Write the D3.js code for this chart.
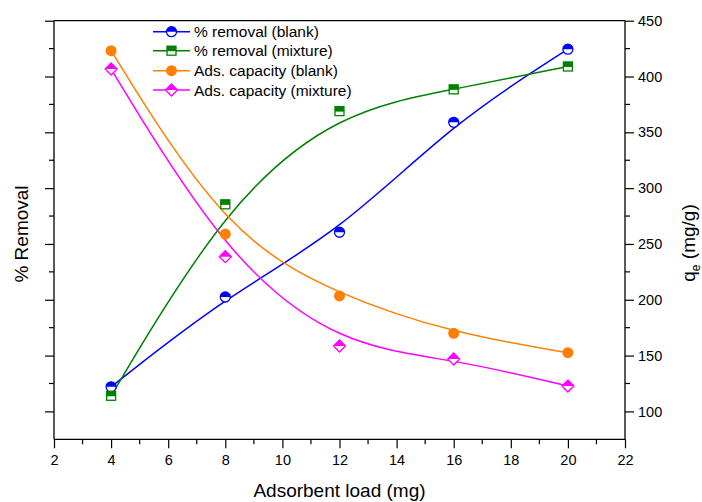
<!DOCTYPE html>
<html><head><meta charset="utf-8">
<script src="https://cdn.jsdelivr.net/npm/d3@7"></script>
<style>
body{margin:0;background:#fff;}
svg text{font-family:Arial,"Liberation Sans",sans-serif;fill:#000;}
</style></head>
<body><svg id="c" width="702" height="502"></svg>
<script>
const loads = [4, 8, 12, 16, 20];
const removalBlank = [34.4, 50.5, 62.1, 81.8, 94.9];
const removalMixture = [32.8, 67.1, 83.8, 87.7, 91.8];
const capacityBlank = [423.1, 258.9, 203.4, 170.0, 152.6];
const capacityMixture = [406.7, 238.6, 158.6, 146.9, 122.7];
const xTicks = [2, 4, 6, 8, 10, 12, 14, 16, 18, 20, 22];
const rightTicks = [100, 150, 200, 250, 300, 350, 400, 450];
const leftTicks = [30, 40, 50, 60, 70, 80, 90, 100];

const svg = d3.select("#c");
const L = 54, R = 625, T = 20.7, B = 439.3;
const x = d3.scaleLinear().domain([2, 22]).range([L, R]);
const yL = d3.scaleLinear().domain([25, 100]).range([B, T]);
const yR = d3.scaleLinear().domain([75, 450]).range([B, T]);

// frame
svg.append("line").attr("x1", L).attr("x2", R).attr("y1", T).attr("y2", T).attr("stroke", "#000").attr("stroke-width", 1.3);

// axes
const xMinor = d3.range(3, 22, 2);
const gx = svg.append("g").attr("transform", `translate(0,${B})`);
gx.call(d3.axisBottom(x).tickValues(xTicks).tickSize(9).tickPadding(6).tickFormat(d3.format("d")));
gx.selectAll(".minor").data(xMinor).enter().append("line").attr("x1", d => x(d)).attr("x2", d => x(d)).attr("y1", 0).attr("y2", 5).attr("stroke", "#000");

const gl = svg.append("g").attr("transform", `translate(${L},0)`);
gl.call(d3.axisLeft(yL).tickValues(leftTicks).tickSize(9).tickFormat(""));
gl.selectAll(".minor").data(d3.range(35, 100, 10)).enter().append("line").attr("x1", 0).attr("x2", -5).attr("y1", d => yL(d)).attr("y2", d => yL(d)).attr("stroke", "#000");

const gr = svg.append("g").attr("transform", `translate(${R},0)`);
gr.call(d3.axisRight(yR).tickValues(rightTicks).tickSize(9).tickPadding(4).tickFormat(d3.format("d")));
gr.selectAll(".minor").data(d3.range(125, 450, 50)).enter().append("line").attr("x1", 0).attr("x2", 5).attr("y1", d => yR(d)).attr("y2", d => yR(d)).attr("stroke", "#000");

[gx, gl, gr].forEach(g => {
  g.select(".domain").attr("stroke-width", 1.3).attr("d", null);
  g.selectAll("text").style("font-size", "14.5px").attr("fill", "#000");
  g.selectAll("line").attr("stroke-width", 1.2);
});
gx.select(".domain").attr("d", `M${L},0H${R}`);
gl.select(".domain").attr("d", `M0,${B}V${T}`);
gr.select(".domain").attr("d", `M0,${B}V${T}`);

// titles
svg.append("text").attr("x", (L + R) / 2).attr("y", 497).attr("text-anchor", "middle").style("font-size", "19px").text("Adsorbent load (mg)");
svg.append("text").attr("transform", "translate(28,234) rotate(-90)").attr("text-anchor", "middle").style("font-size", "19px").text("% Removal");
const qt = svg.append("text").attr("transform", "translate(695,243) rotate(-90)").attr("text-anchor", "middle").style("font-size", "19px");
qt.append("tspan").text("q");
qt.append("tspan").attr("dy", 5).style("font-size", "12px").text("e");
qt.append("tspan").attr("dy", -5).text(" (mg/g)");

// series
const series = [
  {name: "% removal (blank)", vals: removalBlank, y: yL, color: "#0000ff", shape: "circleHalf"},
  {name: "% removal (mixture)", vals: removalMixture, y: yL, color: "#008000", shape: "squareHalf"},
  {name: "Ads. capacity (blank)", vals: capacityBlank, y: yR, color: "#ff8000", shape: "circle"},
  {name: "Ads. capacity (mixture)", vals: capacityMixture, y: yR, color: "#ff00ff", shape: "diamondHalf"}
];

function marker(g, shape, color) {
  if (shape === "circle") {
    g.append("circle").attr("r", 5.5).attr("fill", color);
  } else if (shape === "circleHalf") {
    g.append("circle").attr("r", 5).attr("fill", "#fff").attr("stroke", color).attr("stroke-width", 1.3);
    g.append("path").attr("d", "M-5,0A5,5 0 0 1 5,0Z").attr("fill", color);
  } else if (shape === "squareHalf") {
    g.append("rect").attr("x", -4.5).attr("y", -4.5).attr("width", 9).attr("height", 9).attr("fill", "#fff").attr("stroke", color).attr("stroke-width", 1.3);
    g.append("rect").attr("x", -4.5).attr("y", -4.5).attr("width", 9).attr("height", 5).attr("fill", color);
  } else if (shape === "diamondHalf") {
    g.append("path").attr("d", "M0,-6L6,0L0,6L-6,0Z").attr("fill", "#fff").attr("stroke", color).attr("stroke-width", 1.3);
    g.append("path").attr("d", "M0,-6L6,0L-6,0Z").attr("fill", color);
  }
}

const line = d3.line().curve(d3.curveBasis);
series.forEach(s => {
  const pts = loads.map((l, i) => [x(l), s.y(s.vals[i])]);
  svg.append("path").attr("d", line(pts)).attr("fill", "none").attr("stroke", s.color).attr("stroke-width", 1.5);
});
series.forEach(s => {
  loads.forEach((l, i) => {
    const g = svg.append("g").attr("transform", `translate(${x(l)},${s.y(s.vals[i])})`);
    marker(g, s.shape, s.color);
  });
});

// legend
const legY = [31.7, 50.7, 70.7, 90];
series.forEach((s, i) => {
  const g = svg.append("g").attr("transform", `translate(0,${legY[i]})`);
  g.append("line").attr("x1", 153).attr("x2", 190).attr("y1", 0).attr("y2", 0).attr("stroke", s.color).attr("stroke-width", 1.5);
  const m = g.append("g").attr("transform", "translate(171.5,0)");
  marker(m, s.shape, s.color);
  g.append("text").attr("x", 194).attr("y", 5.5).style("font-size", "15.5px").text(s.name);
});
</script></body></html>
